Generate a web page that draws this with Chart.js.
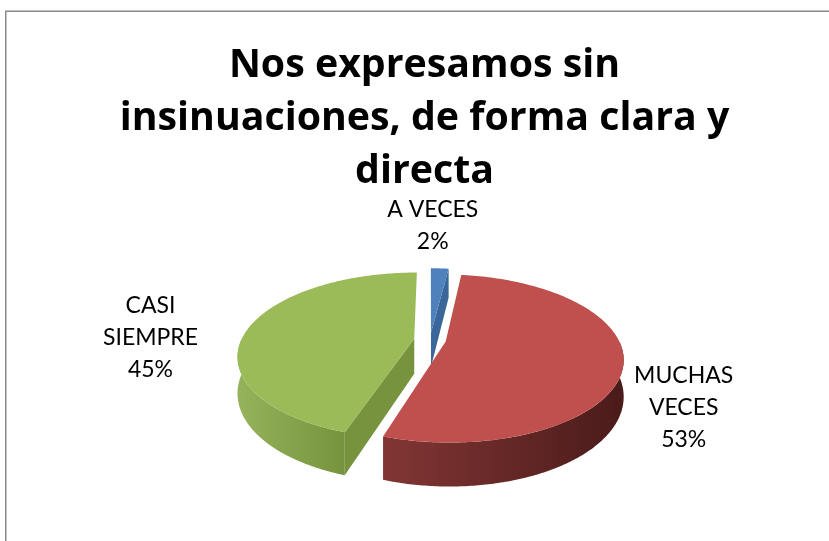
<!DOCTYPE html>
<html>
<head>
<meta charset="utf-8">
<script src="https://cdn.jsdelivr.net/npm/chart.js@4/dist/chart.umd.min.js"></script>
<style>
  html, body { margin: 0; padding: 0; background: #ffffff; overflow: hidden; }
  canvas { display: block; }
</style>
</head>
<body>
<canvas id="chart" width="829" height="541"></canvas>
<script>
// ---- data ----
const titleLines = ['Nos expresamos sin', 'insinuaciones, de forma clara y', 'directa'];
const categories = ['A VECES', 'MUCHAS VECES', 'CASI SIEMPRE'];
const values = [2, 53, 45];
const percentLabels = ['2%', '53%', '45%'];

// ---- styles ----
const topColors = ['#4f81bd', '#c0504d', '#9bbb59'];
const faceColors = ['#3b6699', '#6e2c2a', '#77933d'];
const sideColors = [['#4471a8', '#2f5585'], ['#823634', '#4a1b1a'], ['#95b35b', '#76933d']];
const labelShift = [[-7, -43], [60, 48], [-99, 11]];
const VIEW = { cx: 430, cy: 340, rx: 173, ry: 80, persp: 0.2, depth: 35 };
const TITLE_FONT = '"Open Sans", Lato, sans-serif';
const LABEL_FONT = 'Lato, "Open Sans", sans-serif';
const TITLE_WIDTH = 610;   // target width of the longest title line (px)
const TITLE_LINE_PX = 53;

// fit the title font size so the longest line has the target width
const measureCtx = document.createElement('canvas').getContext('2d');
measureCtx.font = 'bold 100px ' + TITLE_FONT;
const longest = Math.max(...titleLines.map(t => measureCtx.measureText(t).width));
const titleSize = Math.round(100 * TITLE_WIDTH / longest * 10) / 10;

function project(u, v, z) {
  const s = 1 - VIEW.persp * v;
  return [VIEW.cx + VIEW.rx * u / s, VIEW.cy + (VIEW.ry * v + VIEW.depth * z) / s];
}

function sliceGeom(arc) {
  const p = arc.getProps(['x', 'y', 'startAngle', 'endAngle', 'outerRadius'], true);
  const off = (arc.options.offset || 0) / 4 / p.outerRadius;
  const mid = (p.startAngle + p.endAngle) / 2;
  return { sa: p.startAngle, ea: p.endAngle, mid, ou: off * Math.cos(mid), ov: off * Math.sin(mid) };
}
function rimPt(g, a, z, r) {
  r = r === undefined ? 1 : r;
  return project(g.ou + r * Math.cos(a), g.ov + r * Math.sin(a), z);
}
function centerPt(g, z) { return project(g.ou, g.ov, z); }

function drawSlice(ctx, arc, i) {
  const g = sliceGeom(arc);
  const N = 160;
  // radial cut faces
  [[g.sa, Math.cos(g.sa) < -1e-6], [g.ea, Math.cos(g.ea) > 1e-6]].forEach(([a, vis]) => {
    if (!vis) return;
    ctx.beginPath();
    ctx.moveTo(...centerPt(g, 0));
    ctx.lineTo(...rimPt(g, a, 0));
    ctx.lineTo(...rimPt(g, a, 1));
    ctx.lineTo(...centerPt(g, 1));
    ctx.closePath();
    ctx.fillStyle = faceColors[i];
    ctx.fill();
  });
  // outer rim side (front part)
  const a0 = Math.max(g.sa, 0), a1 = Math.min(g.ea, Math.PI);
  if (a1 > a0) {
    ctx.beginPath();
    const pts = [];
    for (let k = 0; k <= N; k++) pts.push(a0 + (a1 - a0) * k / N);
    pts.forEach((a, k) => { const p = rimPt(g, a, 0); k ? ctx.lineTo(...p) : ctx.moveTo(...p); });
    for (let k = N; k >= 0; k--) ctx.lineTo(...rimPt(g, pts[k], 1));
    ctx.closePath();
    const xs = pts.map(a => rimPt(g, a, 0)[0]);
    const grad = ctx.createLinearGradient(Math.min(...xs), 0, Math.max(...xs), 0);
    grad.addColorStop(0, sideColors[i][0]);
    grad.addColorStop(1, sideColors[i][1]);
    ctx.fillStyle = grad;
    ctx.fill();
  }
  // top face
  ctx.beginPath();
  ctx.moveTo(...centerPt(g, 0));
  for (let k = 0; k <= N; k++) ctx.lineTo(...rimPt(g, g.sa + (g.ea - g.sa) * k / N, 0));
  ctx.closePath();
  ctx.fillStyle = topColors[i];
  ctx.fill();
}

function wrapWords(ctx, text, maxW) {
  const words = text.split(' ');
  const lines = [];
  let cur = '';
  words.forEach(w => {
    const t = cur ? cur + ' ' + w : w;
    if (cur && ctx.measureText(t).width > maxW) { lines.push(cur); cur = w; } else cur = t;
  });
  if (cur) lines.push(cur);
  return lines;
}

const framePlugin = {
  id: 'frame',
  beforeDraw(chart) {
    const ctx = chart.ctx;
    ctx.save();
    ctx.strokeStyle = '#8a8a8a';
    ctx.lineWidth = 1.5;
    ctx.beginPath();
    ctx.moveTo(5.75, 541);
    ctx.lineTo(5.75, 11.25);
    ctx.lineTo(829, 11.25);
    ctx.stroke();
    ctx.restore();
  }
};

const pie3dPlugin = {
  id: 'pie3d',
  beforeDatasetsDraw(chart) {
    const ctx = chart.ctx;
    const arcs = chart.getDatasetMeta(0).data;
    ctx.save();
    arcs.forEach((arc, i) => drawSlice(ctx, arc, i));
    ctx.restore();
    return false;
  },
  afterDraw(chart) {
    const ctx = chart.ctx;
    const arcs = chart.getDatasetMeta(0).data;
    ctx.save();
    ctx.font = '23px ' + LABEL_FONT;
    ctx.fillStyle = '#000';
    ctx.textAlign = 'center';
    ctx.textBaseline = 'middle';
    const lh = 32;
    arcs.forEach((arc, i) => {
      const g = sliceGeom(arc);
      const p = rimPt(g, g.mid, 0);
      const lines = wrapWords(ctx, categories[i], 115).concat([percentLabels[i]]);
      const cx = p[0] + labelShift[i][0];
      const cy = p[1] + labelShift[i][1];
      const y0 = cy - (lines.length - 1) * lh / 2;
      lines.forEach((t, k) => ctx.fillText(t, cx, y0 + k * lh));
    });
    ctx.restore();
  }
};

new Chart(document.getElementById('chart'), {
  type: 'pie',
  data: {
    labels: categories,
    datasets: [{ data: values, backgroundColor: topColors, borderWidth: 0, offset: 52 }]
  },
  options: {
    responsive: false,
    animation: false,
    events: [],
    layout: { padding: { left: 20 } },
    plugins: {
      legend: { display: false },
      tooltip: { enabled: false },
      title: {
        display: true,
        text: titleLines,
        color: '#000000',
        font: { family: TITLE_FONT, size: titleSize, weight: 'bold', lineHeight: TITLE_LINE_PX / titleSize },
        padding: { top: 39, bottom: 10 }
      }
    }
  },
  plugins: [framePlugin, pie3dPlugin]
});
</script>
</body>
</html>
